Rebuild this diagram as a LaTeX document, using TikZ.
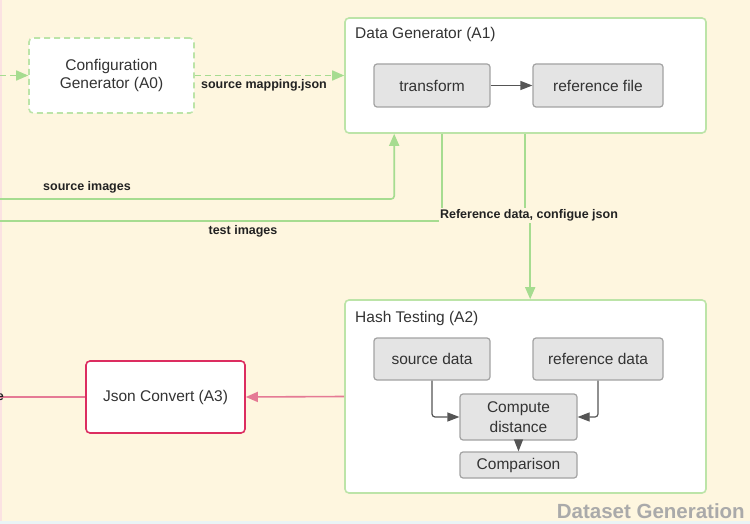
\documentclass[tikz,border=0pt]{standalone}
\usepackage{fontspec}
\setmainfont{Liberation Sans}
\usetikzlibrary{arrows.meta,calc}
\definecolor{bgcream}{HTML}{FEF6DF}
\definecolor{bgpink}{HTML}{FBE2E2}
\definecolor{bgblue}{HTML}{EAF4F5}
\definecolor{grnborder}{HTML}{BCE4A8}
\definecolor{grnline}{HTML}{A6DC90}
\definecolor{boxgrey}{HTML}{E4E4E4}
\definecolor{boxedge}{HTML}{A3A3A3}
\definecolor{arrgrey}{HTML}{555555}
\definecolor{pinkedge}{HTML}{DC2D60}
\definecolor{pinkline}{HTML}{E57A95}
\definecolor{txt}{HTML}{333333}
\definecolor{lbl}{HTML}{222222}
\definecolor{titlegrey}{HTML}{AAAAAA}
\tikzset{
  bigfont/.style={font=\fontsize{15.5}{18.5}\selectfont, text=txt},
  lblfont/.style={font=\bfseries\fontsize{12.5}{14}\selectfont, text=lbl},
  procbox/.style={draw=grnborder, line width=1.6pt, fill=white, rounded corners=4pt, inner sep=0pt},
  greybox/.style={draw=boxedge, line width=1.2pt, fill=boxgrey, rounded corners=3pt, inner sep=0pt, bigfont, align=center},
  grnarrow/.style={draw=grnline, line width=1.6pt, -{Triangle[length=12pt,width=10pt]}},
  grnplain/.style={draw=grnline, line width=1.6pt},
  greyarrow/.style={draw=arrgrey, line width=1.2pt, -{Triangle[length=12pt,width=9pt]}},
  pinkarrow/.style={draw=pinkline, line width=1.6pt, -{Triangle[length=12pt,width=10pt]}},
  lbl/.style={lblfont, inner sep=1pt}
}
\begin{document}
\begin{tikzpicture}[x=1pt,y=-1pt]
\useasboundingbox (0,0) rectangle (750,524);
\clip (0,0) rectangle (750,524);
% background
\fill[bgcream] (0,0) rectangle (750,521);
\fill[bgblue] (0,521) rectangle (750,524);
\fill[bgpink] (0,0) rectangle (1.6,521);

% main process boxes
\node[procbox, dash pattern=on 6pt off 4pt, minimum width=165pt, minimum height=75pt, bigfont, align=center] (A0) at (111.5,75.5) {Configuration\\Generator (A0)};
\node[procbox, minimum width=361pt, minimum height=115pt] (A1) at (525.5,75.5) {};
\node[bigfont, anchor=north west, inner sep=0pt] (A1t) at (355,27) {Data Generator (A1)};
\node[procbox, minimum width=361pt, minimum height=193pt] (A2) at (525.5,396.5) {};
\node[bigfont, anchor=north west, inner sep=0pt] (A2t) at (355,311) {Hash Testing (A2)};
\node[draw=pinkedge, line width=1.6pt, fill=white, rounded corners=4pt, minimum width=159pt, minimum height=72pt, bigfont] (A3) at (165.5,397) {Json Convert (A3)};

% inner boxes
\node[greybox, minimum width=116pt, minimum height=43pt] (tr) at (432,85.5) {transform};
\node[greybox, minimum width=130pt, minimum height=43pt] (rf) at (598,85.5) {reference file};
\node[greybox, minimum width=116pt, minimum height=42pt] (sd) at (432,359) {source data};
\node[greybox, minimum width=130pt, minimum height=42pt] (rd) at (598,359) {reference data};
\node[greybox, minimum width=117pt, minimum height=46pt, font=\fontsize{15.5}{20}\selectfont] (cd) at (518.5,417) {Compute\\distance};
\node[greybox, minimum width=117pt, minimum height=26pt] (cmp) at (518.5,465) {Comparison};

% free ends
\coordinate (inA0) at (0,75.5);
\coordinate (srcL) at (0,199);
\coordinate (tstL) at (0,221);
\coordinate (outL) at (0,397);
\coordinate (srcUp) at ($(A1.south west)+(50,0)$);
\coordinate (tstDn) at ($(A1.south west)+(98,0)$);
\coordinate (refDn) at ($(A1.south west)+(181,0)$);
\coordinate (refIn) at ($(A2.north west)+(186,0)$);

% connectors
\draw[grnline, line width=1.6pt, dash pattern=on 6pt off 4pt, -{Triangle[length=12pt,width=10pt]}] (inA0) -- (A0.west);
\draw[grnline, line width=1.6pt, dash pattern=on 6pt off 4pt, -{Triangle[length=12pt,width=10pt]}] (A0.east) -- (A1.west);
\draw[grnarrow, rounded corners=3pt] (srcL) -| (srcUp);
\draw[grnplain] (tstDn) |- (tstL);
\draw[grnplain] (refDn) -- ++(0,82);
\draw[grnarrow] (refIn |- 0,215) -- (refIn);
\draw[greyarrow] (tr) -- (rf);
\draw[greyarrow, rounded corners=3pt] (sd.south) |- (cd.west);
\draw[greyarrow, rounded corners=3pt] (rd.south) |- (cd.east);
\draw[greyarrow] (cd) -- (cmp);
\draw[pinkarrow] (A2.west) -- (A3.east);
\draw[pinkline, line width=1.6pt] (A3.west) -- (outL);

% labels
\node[lbl] (lmap) at (264,85) {source mapping.json};
\node[lbl] (lsrc) at (87,187) {source images};
\node[lbl] (ltst) at (243,231) {test images};
\node[lbl, fill=bgcream, inner xsep=1pt, inner ysep=2pt] (lref) at (529,215.5) {Reference data, configue json};
\node[lbl, anchor=east] (lout) at (5,397) {e};
\node[font=\bfseries\fontsize{20.5}{24}\selectfont, text=titlegrey, anchor=east, inner sep=0pt] (title) at (745,511) {Dataset Generation};
\end{tikzpicture}
\end{document}
